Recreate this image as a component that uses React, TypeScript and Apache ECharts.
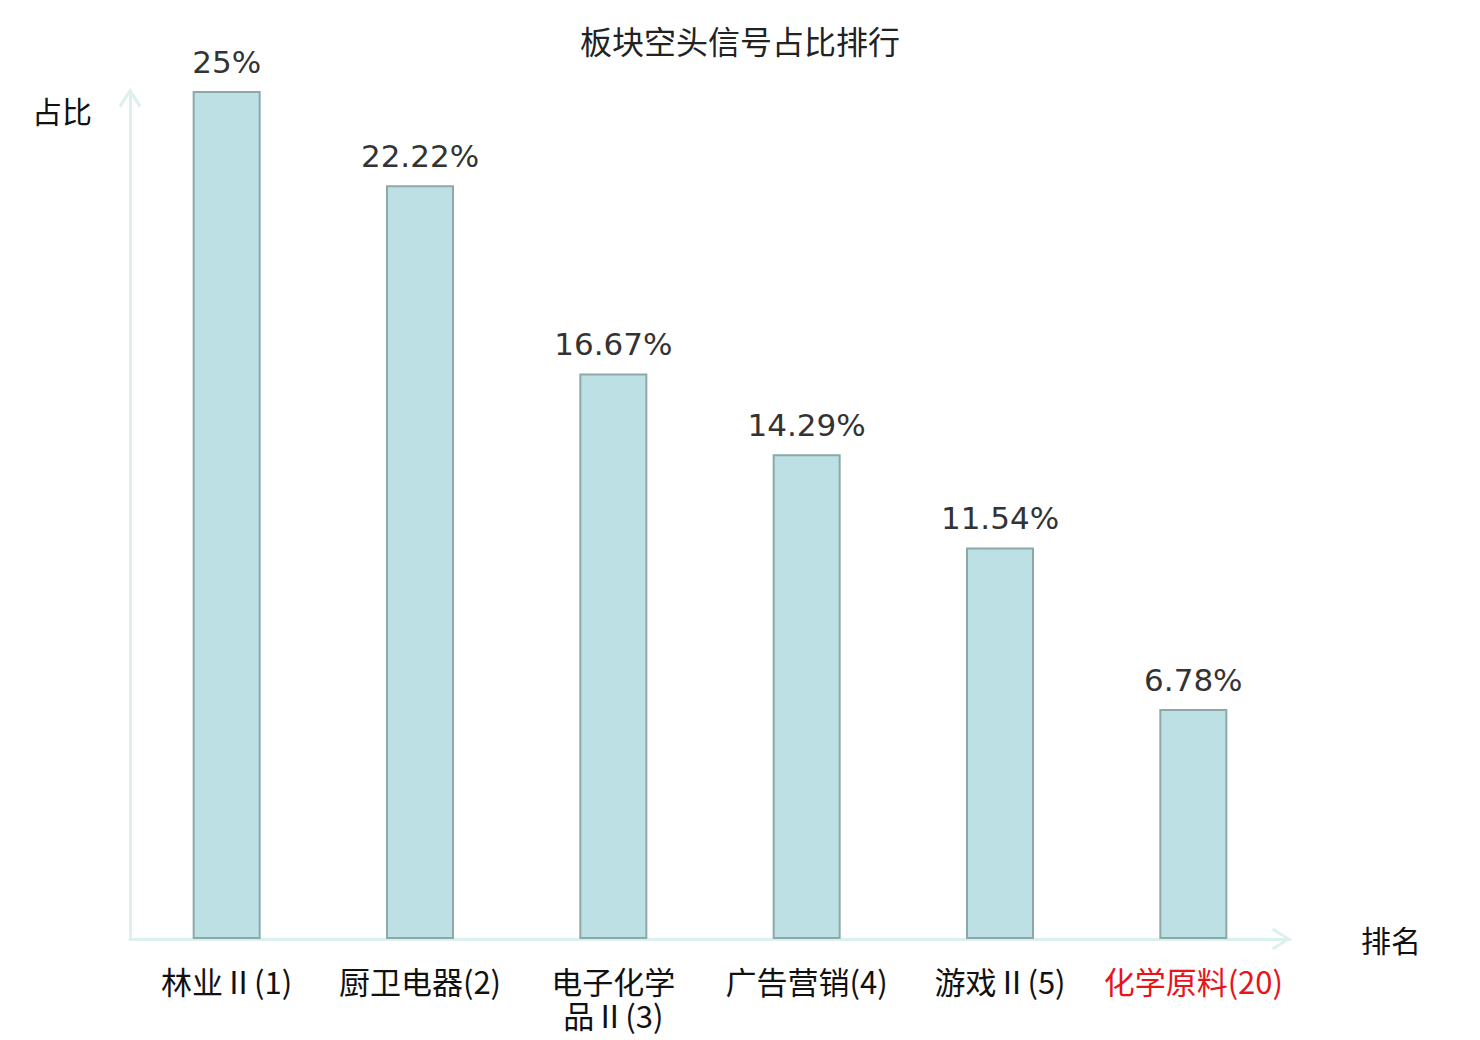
import React, { useEffect, useRef } from "react";
import * as echarts from "echarts";

const categories = ["林业Ⅱ(1)", "厨卫电器(2)", "电子化学\n品Ⅱ(3)", "广告营销(4)", "游戏Ⅱ(5)", "化学原料(20)"];
const values = [25, 22.22, 16.67, 14.29, 11.54, 6.78];
const highlighted = [false, false, false, false, false, true];
const titleText = "板块空头信号占比排行";
const yName = "占比";
const xName = "排名";

const CJK = "'Noto Sans CJK SC', 'Noto Sans', sans-serif";
const AXIS_COLOR = "#dcf1ee";
const ARROW = "path://M0,17 L11,0 L22,17 L20,20 L11,5 L2,20 Z";

export default function App() {
  const ref = useRef<HTMLDivElement>(null);
  useEffect(() => {
    if (!ref.current) return;
    const chart = echarts.init(ref.current, undefined, { renderer: "svg" });
    chart.setOption({
      animation: false,
      backgroundColor: "#ffffff",
      title: {
        text: titleText,
        left: "center",
        top: 19,
        textStyle: { fontFamily: CJK, fontSize: 32, fontWeight: "normal", color: "#222" },
      },
      grid: { left: 130, right: 190, top: 91, bottom: 101, containLabel: false },
      xAxis: {
        type: "category",
        data: categories,
        name: xName,
        nameLocation: "end",
        nameGap: 71,
        nameTextStyle: { fontFamily: CJK, fontSize: 30, color: "#111", align: "left", verticalAlign: "middle" },
        axisLine: {
          show: true,
          symbol: ["none", ARROW],
          symbolSize: [22, 20],
          symbolOffset: [0, -9],
          lineStyle: { color: AXIS_COLOR, width: 3 },
        },
        axisTick: { show: false },
        axisLabel: {
          interval: 0,
          margin: 24,
          fontFamily: CJK,
          fontSize: 31,
          lineHeight: 34,
          color: (_v: any, i: number) => (highlighted[i] ? "#e8141a" : "#111"),
        },
      },
      yAxis: {
        type: "value",
        min: 0,
        max: 25,
        name: yName,
        nameLocation: "end",
        nameGap: -19,
        nameTextStyle: {
          fontFamily: CJK,
          fontSize: 30,
          color: "#111",
          align: "right",
          verticalAlign: "middle",
          padding: [0, 38, 0, 0],
        },
        axisLine: {
          show: true,
          symbol: ["none", ARROW],
          symbolSize: [22, 20],
          symbolOffset: [0, -7],
          lineStyle: { color: AXIS_COLOR, width: 3 },
        },
        axisTick: { show: false },
        axisLabel: { show: false },
        splitLine: { show: false },
      },
      series: [
        {
          type: "bar",
          data: values,
          barWidth: 68,
          itemStyle: { color: "#bce0e3", borderColor: "#8ea8aa", borderWidth: 2 },
          label: {
            show: true,
            position: "top",
            distance: 14,
            formatter: (p: any) => `${p.value}%`,
            fontFamily: "'DejaVu Sans', sans-serif",
            fontSize: 31,
            color: "#333",
          },
        },
      ],
    });
    return () => chart.dispose();
  }, []);
  return <div ref={ref} style={{ position: "absolute", left: 0, top: 0, width: 1480, height: 1040 }} />;
}
